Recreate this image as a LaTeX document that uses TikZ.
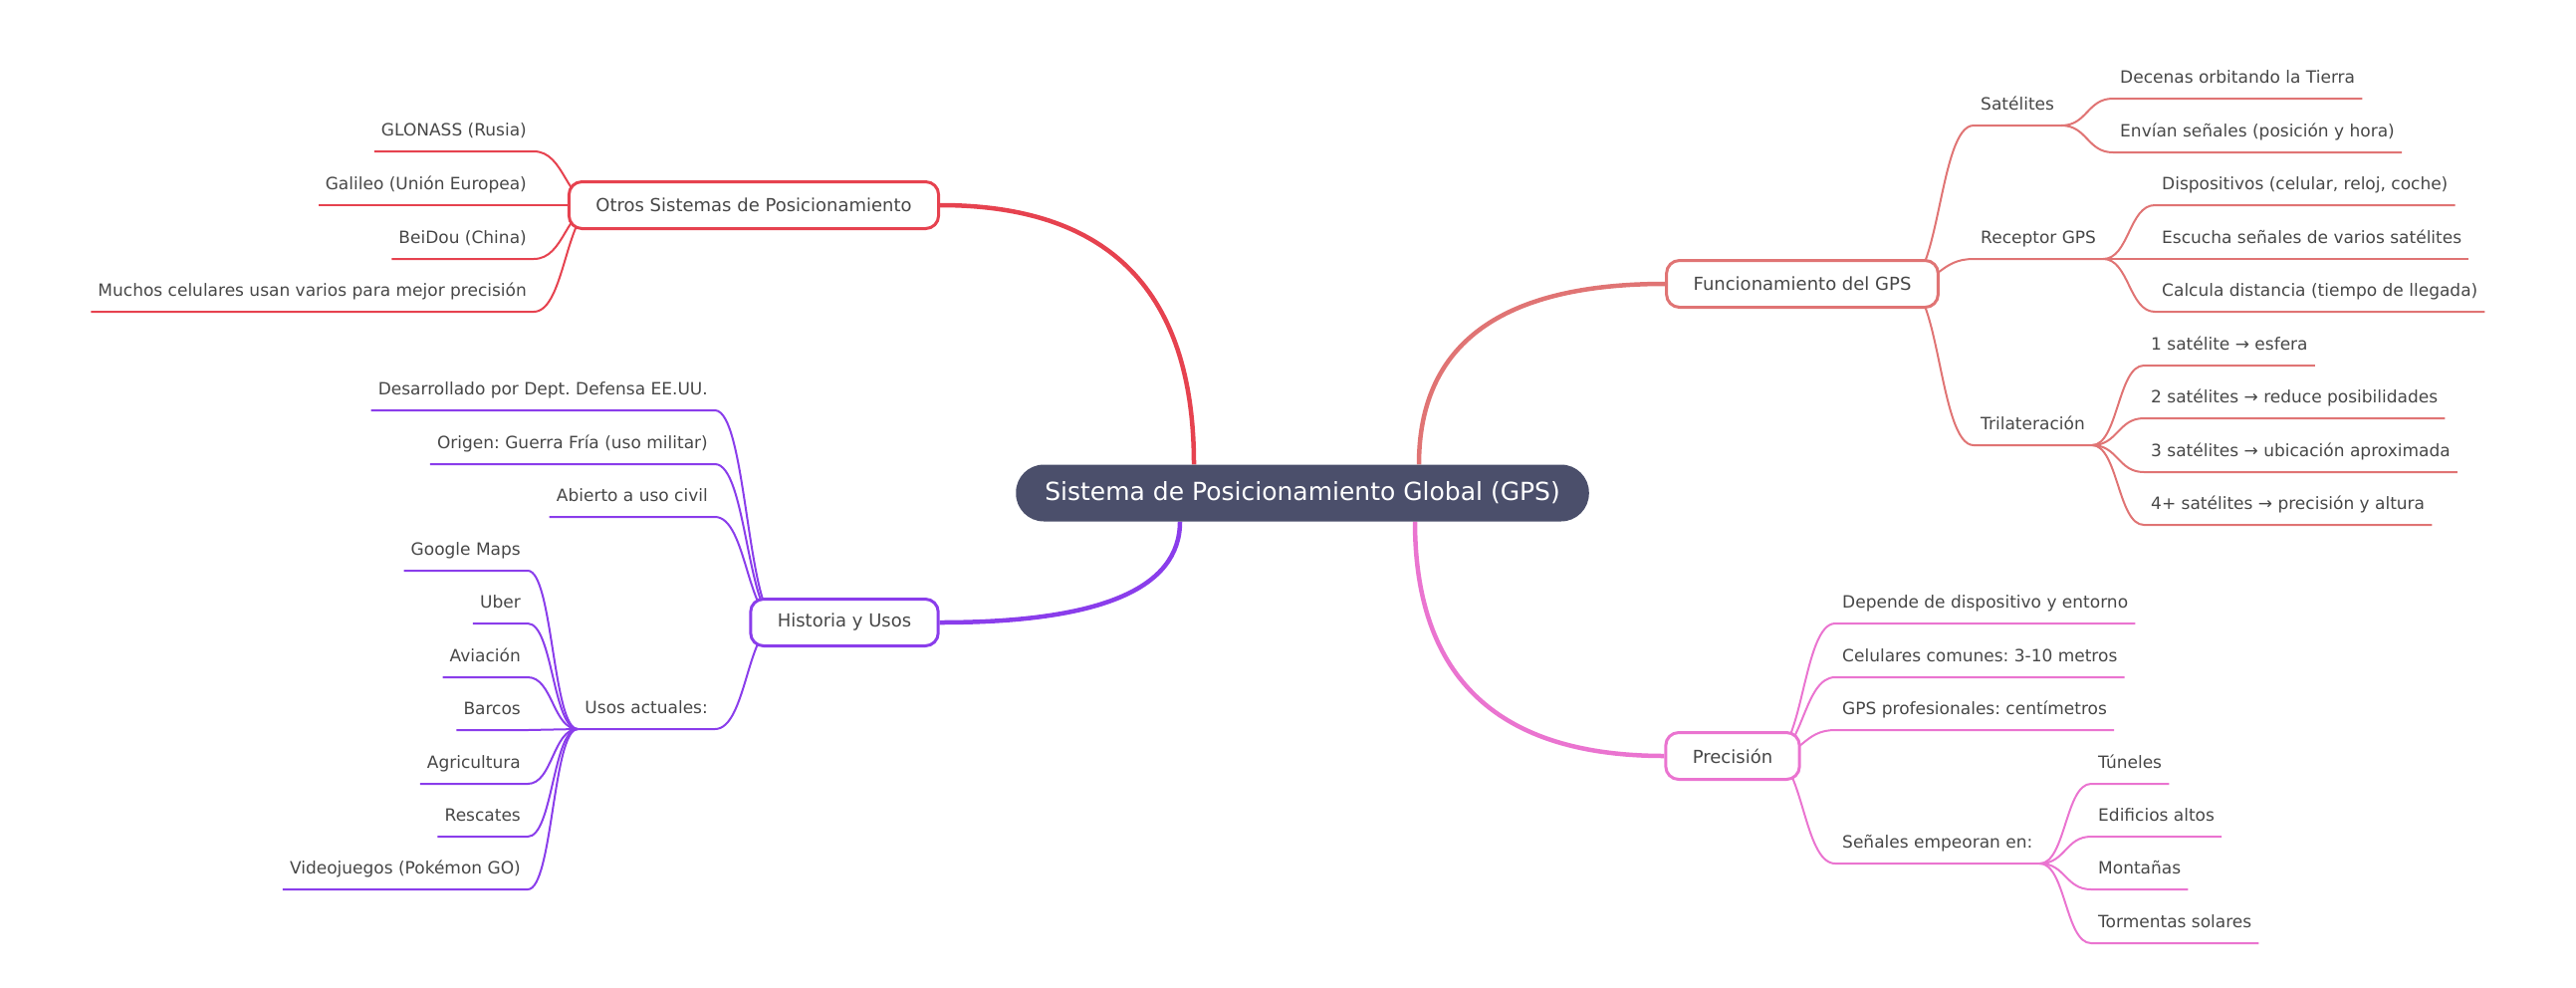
\documentclass[tikz,border=0pt]{standalone}
\usepackage{fontspec}
\setmainfont{DejaVu Sans}
\usetikzlibrary{calc,backgrounds}
\frenchspacing
\definecolor{hubfill}{HTML}{4B4F6B}
\definecolor{ink}{HTML}{474747}
\definecolor{cRed}{HTML}{E6424F}
\definecolor{cCoral}{HTML}{E07474}
\definecolor{cPurple}{HTML}{8A3DEB}
\definecolor{cPink}{HTML}{EA74D0}

\begin{document}
\begin{tikzpicture}[x=1pt,y=-1pt,
 every node/.style={font=\fontsize{17pt}{20pt}\selectfont,text=ink},
 hub/.style={fill=hubfill,rounded corners=28pt,minimum height=57pt,inner xsep=29pt,
  font=\fontsize{25pt}{30pt}\selectfont,text=white},
 topic/.style={draw,fill=white,line width=3pt,rounded corners=13pt,minimum height=47pt,
  inner xsep=27pt,font=\fontsize{18pt}{22pt}\selectfont},
 leafR/.style={anchor=south west,inner xsep=7pt,inner ysep=0pt,text depth=15pt},
 leafL/.style={leafR,anchor=south east},
 trunk/.style={line width=4.5pt,to path={let \p1=(\tikztostart),\p2=(\tikztotarget) in
  .. controls ($(\p1)!.667!(\x1,\y2)$) and ($(\p2)!.667!(\x1,\y2)$) .. (\p2)}},
 twig/.style={line width=2pt,to path={let \p1=(\tikztostart),\p2=(\tikztotarget) in
  .. controls ($(\p1)!.5!(\x2,\y1)$) and ($(\p2)!.5!(\x1,\y2)$) .. (\p2)}}]
\useasboundingbox (0,0) rectangle (2587,991);

\node[hub] (gps) at (1308,495) {Sistema de Posicionamiento Global (GPS)};
\node[topic,draw=cRed] (otros) at (757,206) {Otros Sistemas de Posicionamiento};
\node[topic,draw=cCoral] (func) at (1810,285) {Funcionamiento del GPS};
\node[topic,draw=cPurple] (hist) at (848,625) {Historia y Usos};
\node[topic,draw=cPink] (prec) at (1740,759) {Precisión};

\node[leafR] (sat) at (1982,126) {Satélites};
\node[leafR] (rec) at (1982,260) {Receptor GPS};
\node[leafR] (tri) at (1982,447) {Trilateración};
\node[leafR] (sat1) at (2122,99) {Decenas orbitando la Tierra};
\node[leafR] (sat2) at (2122,153) {Envían señales (posición y hora)};
\node[leafR] (rec1) at (2164,206) {Dispositivos (celular, reloj, coche)};
\node[leafR] (rec2) at (2164,260) {Escucha señales de varios satélites};
\node[leafR] (rec3) at (2164,313) {Calcula distancia (tiempo de llegada)};
\node[leafR] (tri1) at (2153,367) {1 satélite → esfera};
\node[leafR] (tri2) at (2153,420) {2 satélites → reduce posibilidades};
\node[leafR] (tri3) at (2153,474) {3 satélites → ubicación aproximada};
\node[leafR] (tri4) at (2153,527) {4+ satélites → precisión y altura};

\node[leafR] (pre1) at (1843,626) {Depende de dispositivo y entorno};
\node[leafR] (pre2) at (1843,680) {Celulares comunes: 3-10 metros};
\node[leafR] (pre3) at (1843,733) {GPS profesionales: centímetros};
\node[leafR] (pre4) at (1843,867) {Señales empeoran en:};
\node[leafR] (sen1) at (2100,787) {Túneles};
\node[leafR] (sen2) at (2100,840) {Edificios altos};
\node[leafR] (sen3) at (2100,893) {Montañas};
\node[leafR] (sen4) at (2100,947) {Tormentas solares};

\node[leafL] (otr1) at (536,152) {GLONASS (Rusia)};
\node[leafL] (otr2) at (536,206) {Galileo (Unión Europea)};
\node[leafL] (otr3) at (536,260) {BeiDou (China)};
\node[leafL] (otr4) at (536,313) {Muchos celulares usan varios para mejor precisión};

\node[leafL] (his1) at (718,412) {Desarrollado por Dept. Defensa EE.UU.};
\node[leafL] (his2) at (718,466) {Origen: Guerra Fría (uso militar)};
\node[leafL] (his3) at (718,519) {Abierto a uso civil};
\node[leafL] (usos) at (718,732) {Usos actuales:};
\node[leafL] (uso1) at (530,573) {Google Maps};
\node[leafL] (uso2) at (530,626) {Uber};
\node[leafL] (uso3) at (530,680) {Aviación};
\node[leafL] (uso4) at (530,733) {Barcos};
\node[leafL] (uso5) at (530,787) {Agricultura};
\node[leafL] (uso6) at (530,840) {Rescates};
\node[leafL] (uso7) at (530,893) {Videojuegos (Pokémon GO)};

\begin{scope}[on background layer]
\draw[trunk,cRed] ([xshift=-109]gps.north) to (otros.east);
\draw[trunk,cCoral] ([xshift=117]gps.north) to (func.west);
\draw[trunk,cPurple] ([xshift=-123]gps.south) to (hist.east);
\draw[trunk,cPink] ([xshift=113]gps.south) to (prec.west);

\draw[twig,cCoral] ([xshift=-34]func.east) to (sat.south west) -- (sat.south east);
\draw[twig,cCoral] ([xshift=-34]func.east) to (rec.south west) -- (rec.south east);
\draw[twig,cCoral] ([xshift=-34]func.east) to (tri.south west) -- (tri.south east);
\draw[twig,cCoral] (sat.south east) to (sat1.south west) -- (sat1.south east);
\draw[twig,cCoral] (sat.south east) to (sat2.south west) -- (sat2.south east);
\draw[twig,cCoral] (rec.south east) to (rec1.south west) -- (rec1.south east);
\draw[twig,cCoral] (rec.south east) to (rec2.south west) -- (rec2.south east);
\draw[twig,cCoral] (rec.south east) to (rec3.south west) -- (rec3.south east);
\draw[twig,cCoral] (tri.south east) to (tri1.south west) -- (tri1.south east);
\draw[twig,cCoral] (tri.south east) to (tri2.south west) -- (tri2.south east);
\draw[twig,cCoral] (tri.south east) to (tri3.south west) -- (tri3.south east);
\draw[twig,cCoral] (tri.south east) to (tri4.south west) -- (tri4.south east);

\draw[twig,cPink] ([xshift=-30]prec.east) to (pre1.south west) -- (pre1.south east);
\draw[twig,cPink] ([xshift=-30]prec.east) to (pre2.south west) -- (pre2.south east);
\draw[twig,cPink] ([xshift=-30]prec.east) to (pre3.south west) -- (pre3.south east);
\draw[twig,cPink] ([xshift=-30]prec.east) to (pre4.south west) -- (pre4.south east);
\draw[twig,cPink] (pre4.south east) to (sen1.south west) -- (sen1.south east);
\draw[twig,cPink] (pre4.south east) to (sen2.south west) -- (sen2.south east);
\draw[twig,cPink] (pre4.south east) to (sen3.south west) -- (sen3.south east);
\draw[twig,cPink] (pre4.south east) to (sen4.south west) -- (sen4.south east);

\draw[twig,cRed] ([xshift=30]otros.west) to (otr1.south east) -- (otr1.south west);
\draw[twig,cRed] ([xshift=30]otros.west) to (otr2.south east) -- (otr2.south west);
\draw[twig,cRed] ([xshift=30]otros.west) to (otr3.south east) -- (otr3.south west);
\draw[twig,cRed] ([xshift=30]otros.west) to (otr4.south east) -- (otr4.south west);

\draw[twig,cPurple] ([xshift=30]hist.west) to (his1.south east) -- (his1.south west);
\draw[twig,cPurple] ([xshift=30]hist.west) to (his2.south east) -- (his2.south west);
\draw[twig,cPurple] ([xshift=30]hist.west) to (his3.south east) -- (his3.south west);
\draw[twig,cPurple] ([xshift=30]hist.west) to (usos.south east) -- (usos.south west);
\draw[twig,cPurple] (usos.south west) to (uso1.south east) -- (uso1.south west);
\draw[twig,cPurple] (usos.south west) to (uso2.south east) -- (uso2.south west);
\draw[twig,cPurple] (usos.south west) to (uso3.south east) -- (uso3.south west);
\draw[twig,cPurple] (usos.south west) to (uso4.south east) -- (uso4.south west);
\draw[twig,cPurple] (usos.south west) to (uso5.south east) -- (uso5.south west);
\draw[twig,cPurple] (usos.south west) to (uso6.south east) -- (uso6.south west);
\draw[twig,cPurple] (usos.south west) to (uso7.south east) -- (uso7.south west);
\end{scope}
\end{tikzpicture}
\end{document}
